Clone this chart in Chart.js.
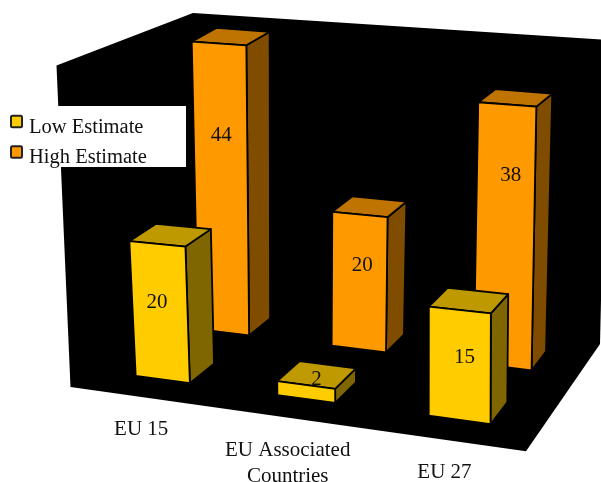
<!DOCTYPE html>
<html>
<head>
<meta charset="utf-8">
<title>Estimates</title>
<script src="https://cdn.jsdelivr.net/npm/chart.js@4/dist/chart.umd.min.js"></script>
<style>
  html, body { margin: 0; padding: 0; background: #fff; }
  canvas { display: block; }
</style>
</head>
<body>
<canvas id="chart" width="601" height="482"></canvas>
<script>
// ── Data
const categories = ["EU 15", ["EU Associated", "Countries"], "EU 27"];
const lowEstimate = [20, 2, 15];
const highEstimate = [44, 20, 38];
const axisMax = 46;

// ── Colours per series: front, side, top
const lowColors = ["#FFCC00", "#7F6600", "#BF9900"];
const highColors = ["#FF9900", "#7F4C00", "#BF7300"];

// ── Box corners on screen: front-left, front-right, back-right, back-left
const floorCorners = [[70.5, 387], [526, 451.3], [600, 344], [197, 297]];
const ceilCorners = [[56.5, 65.5], [537, 100], [607, 40], [193, 13]];
// Columns rise slightly off the wall verticals; same corner order
const columnLean = [[-7.7, 12.5], [-11.7, -1.1], [1.5, -5], [-0.9, -10.6]];

// Nudge of each value label from the centre of its bar's front face
const lowLabelShift = [[-3, -10.5], [10.5, -14], [5, -9]];
const highLabelShift = [[0, -54], [3, -17.5], [6, -62]];

const SERIF = '"Liberation Serif", serif';
const ROW_SHARE = 0.39; // same share as barPercentage, so columns come out square
const ROW_NUDGE = 0.015;

// Unit square -> quad (standard projective mapping)
function quadMap([p0, p1, p2, p3]) {
  const dx1 = p1[0] - p2[0], dx2 = p3[0] - p2[0], sx = p0[0] - p1[0] + p2[0] - p3[0];
  const dy1 = p1[1] - p2[1], dy2 = p3[1] - p2[1], sy = p0[1] - p1[1] + p2[1] - p3[1];
  const det = dx1 * dy2 - dx2 * dy1;
  const g = (sx * dy2 - dx2 * sy) / det;
  const h = (dx1 * sy - sx * dy1) / det;
  const a = p1[0] - p0[0] + g * p1[0], b = p3[0] - p0[0] + h * p3[0];
  const d = p1[1] - p0[1] + g * p1[1], e = p3[1] - p0[1] + h * p3[1];
  return (u, w) => {
    const q = g * u + h * w + 1;
    return [(a * u + b * w + p0[0]) / q, (d * u + e * w + p0[1]) / q];
  };
}

const floorMap = quadMap(floorCorners);
const ceilMap = quadMap(ceilCorners);

// u: across, v: height, w: depth, all 0..1
function project(u, v, w) {
  const f = floorMap(u, w), c = ceilMap(u, w);
  return [f[0] + (c[0] - f[0]) * v, f[1] + (c[1] - f[1]) * v];
}

// Same as project, with the column lean blended in by height
function projectColumn(u, v, w) {
  const p = project(u, v, w);
  const [fl, fr, br, bl] = columnLean;
  return [0, 1].map((k) => {
    const lean = (1 - u) * (1 - w) * fl[k] + u * (1 - w) * fr[k] + u * w * br[k] + (1 - u) * w * bl[k];
    return p[k] + lean * v;
  });
}

function trace(ctx, pts) {
  ctx.beginPath();
  pts.forEach((p, i) => (i ? ctx.lineTo(p[0], p[1]) : ctx.moveTo(p[0], p[1])));
  ctx.closePath();
}

function face(ctx, pts, fill) {
  trace(ctx, pts);
  ctx.fillStyle = fill;
  ctx.fill();
  ctx.stroke();
}

// Left wall, back wall and floor are all black, so one outline covers them
function drawWalls(ctx) {
  trace(ctx, [
    project(0, 0, 0), project(0, 1, 0), project(0, 1, 1),
    project(1, 1, 1), project(1, 0, 1), project(1, 0, 0),
  ]);
  ctx.fillStyle = "#000";
  ctx.fill();
}

function drawLegend(ctx, chart) {
  ctx.save();
  ctx.fillStyle = "#fff";
  ctx.fillRect(0, 106, 186, 61);
  chart.data.datasets.forEach((ds, i) => {
    const y = 115.7 + i * 30.5;
    ctx.beginPath();
    ctx.roundRect(11, y, 11, 11.5, 1.5);
    ctx.fillStyle = ds.faceColors[0];
    ctx.fill();
    ctx.lineWidth = 2;
    ctx.strokeStyle = "#222";
    ctx.stroke();
    ctx.fillStyle = "#111";
    ctx.font = `20.5px ${SERIF}`;
    ctx.textAlign = "left";
    ctx.textBaseline = "alphabetic";
    ctx.fillText(ds.label, 29, 132.7 + i * 30);
  });
  ctx.restore();
}

function drawTicks(ctx, chart) {
  const area = chart.chartArea;
  const xs = chart.scales.x;
  ctx.save();
  ctx.fillStyle = "#111";
  ctx.font = `21px ${SERIF}`;
  ctx.textAlign = "center";
  ctx.textBaseline = "alphabetic";
  chart.data.labels.forEach((label, i) => {
    const u = (xs.getPixelForValue(i) - area.left) / area.width;
    const p = project(u, 0, 0);
    [].concat(label).forEach((line, n) => {
      ctx.fillText(line, p[0] + 1, p[1] + 38 + n * 26);
    });
  });
  ctx.restore();
}

// Columns are laid out by the bar controller, then pushed through the projection
function drawColumns(ctx, chart) {
  const area = chart.chartArea;
  const count = chart.data.datasets.length;
  const depth = ROW_SHARE / count;
  const at = projectColumn;
  for (let d = count - 1; d >= 0; d--) {
    const ds = chart.data.datasets[d];
    const [front, side, top] = ds.faceColors;
    const w0 = (d + 0.5) / count - depth / 2 + ROW_NUDGE;
    const w1 = w0 + depth;
    chart.getDatasetMeta(d).data.forEach((bar, i) => {
      const u0 = (bar.x - bar.width / 2 - area.left) / area.width;
      const u1 = (bar.x + bar.width / 2 - area.left) / area.width;
      const v = (area.bottom - bar.y) / area.height;
      ctx.save();
      ctx.strokeStyle = "#000";
      ctx.lineWidth = 1.8;
      ctx.lineJoin = "round";
      face(ctx, [at(u1, 0, w0), at(u1, v, w0), at(u1, v, w1), at(u1, 0, w1)], side);
      face(ctx, [at(u0, v, w0), at(u1, v, w0), at(u1, v, w1), at(u0, v, w1)], top);
      face(ctx, [at(u0, 0, w0), at(u1, 0, w0), at(u1, v, w0), at(u0, v, w0)], front);

      const mid = at((u0 + u1) / 2, v / 2, w0);
      const [dx, dy] = ds.labelShift[i];
      ctx.fillStyle = "#111";
      ctx.font = `21px ${SERIF}`;
      ctx.textAlign = "center";
      ctx.textBaseline = "alphabetic";
      ctx.fillText(String(ds.data[i]), mid[0] + dx, mid[1] + dy + 7);
      ctx.restore();
    });
  }
}

const box3d = {
  id: "box3d",
  beforeDatasetsDraw(chart) {
    const ctx = chart.ctx;
    drawWalls(ctx);
    drawLegend(ctx, chart);
    drawTicks(ctx, chart);
    drawColumns(ctx, chart);
    return false; // flat bars stay undrawn
  },
};

new Chart(document.getElementById("chart"), {
  type: "bar",
  data: {
    labels: categories,
    datasets: [
      { label: "Low Estimate", data: lowEstimate, faceColors: lowColors, labelShift: lowLabelShift },
      { label: "High Estimate", data: highEstimate, faceColors: highColors, labelShift: highLabelShift },
    ],
  },
  options: {
    responsive: false,
    animation: false,
    grouped: false,
    categoryPercentage: 1,
    barPercentage: 0.39,
    plugins: { legend: { display: false }, tooltip: { enabled: false } },
    scales: {
      x: { display: false },
      y: { display: false, min: 0, max: axisMax },
    },
  },
  plugins: [box3d],
});
</script>
</body>
</html>
